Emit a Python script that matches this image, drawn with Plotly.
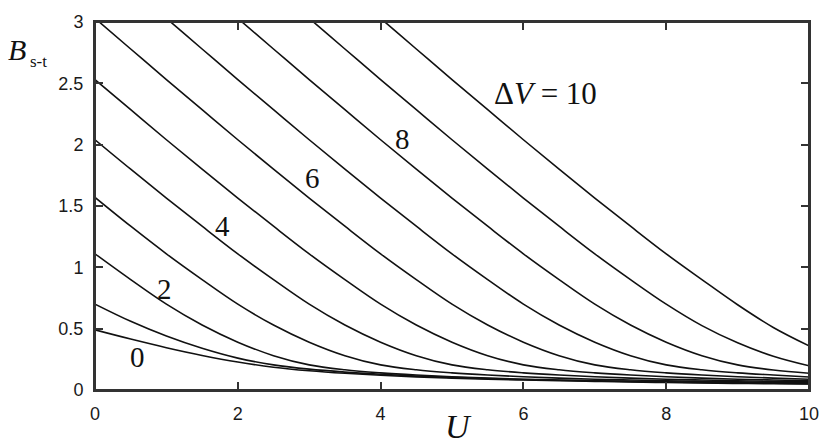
import plotly.graph_objects as go

U = [0, 0.5, 1, 1.5, 2, 2.5, 3, 3.5, 4, 4.5, 5, 5.5, 6, 6.5, 7, 7.5, 8, 8.5, 9, 9.5, 10]

dv0 = [0.49, 0.415, 0.345, 0.282, 0.228, 0.186, 0.157, 0.136, 0.120, 0.107, 0.097, 0.088, 0.081, 0.075, 0.070, 0.065, 0.061, 0.057, 0.054, 0.051, 0.049]
dv1 = [0.70, 0.56, 0.44, 0.34, 0.26, 0.205, 0.170, 0.146, 0.128, 0.114, 0.103, 0.094, 0.086, 0.080, 0.074, 0.069, 0.065, 0.061, 0.058, 0.055, 0.052]
dv2 = [1.11, 0.90, 0.70, 0.53, 0.39, 0.28, 0.205, 0.165, 0.140, 0.122, 0.108, 0.097, 0.088, 0.081, 0.075, 0.070, 0.066, 0.062, 0.059, 0.056, 0.054]
dv3 = [1.57, 1.335, 1.11, 0.90, 0.70, 0.53, 0.39, 0.28, 0.205, 0.165, 0.140, 0.122, 0.108, 0.097, 0.088, 0.081, 0.075, 0.070, 0.066, 0.062, 0.059]
dv4 = [2.04, 1.80, 1.565, 1.335, 1.11, 0.90, 0.70, 0.53, 0.39, 0.28, 0.205, 0.165, 0.140, 0.122, 0.108, 0.097, 0.088, 0.081, 0.075, 0.070, 0.066]
dv5 = [2.53, 2.285, 2.04, 1.80, 1.565, 1.335, 1.11, 0.90, 0.70, 0.53, 0.39, 0.28, 0.205, 0.165, 0.140, 0.122, 0.108, 0.097, 0.088, 0.081, 0.075]
dv6 = [3.03, 2.78, 2.53, 2.285, 2.04, 1.80, 1.565, 1.335, 1.11, 0.90, 0.70, 0.53, 0.39, 0.28, 0.205, 0.165, 0.140, 0.122, 0.108, 0.097, 0.088]
dv7 = [3.53, 3.28, 3.03, 2.78, 2.53, 2.285, 2.04, 1.80, 1.565, 1.335, 1.11, 0.90, 0.70, 0.53, 0.39, 0.28, 0.205, 0.165, 0.140, 0.122, 0.106]
dv8 = [4.03, 3.78, 3.53, 3.28, 3.03, 2.78, 2.53, 2.285, 2.04, 1.80, 1.565, 1.335, 1.11, 0.90, 0.70, 0.53, 0.39, 0.28, 0.205, 0.163, 0.137]
dv9 = [4.53, 4.28, 4.03, 3.78, 3.53, 3.28, 3.03, 2.78, 2.53, 2.285, 2.04, 1.80, 1.565, 1.335, 1.11, 0.90, 0.70, 0.525, 0.385, 0.275, 0.197]
dv10 = [5.03, 4.78, 4.53, 4.28, 4.03, 3.78, 3.53, 3.28, 3.03, 2.78, 2.53, 2.285, 2.04, 1.80, 1.565, 1.335, 1.11, 0.90, 0.695, 0.51, 0.36]

curves = [dv0, dv1, dv2, dv3, dv4, dv5, dv6, dv7, dv8, dv9, dv10]

label_text = ["0", "2", "4", "6", "8"]
label_x = [0.59, 0.98, 1.79, 3.04, 4.31]
label_y = [0.27, 0.82, 1.34, 1.73, 2.05]

x_ticks = [0, 2, 4, 6, 8, 10]
y_ticks = [0, 0.5, 1, 1.5, 2, 2.5, 3]
y_tick_text = ["0", "0.5", "1", "1.5", "2", "2.5", "3"]

fig = go.Figure()
for c in curves:
    fig.add_trace(go.Scatter(x=U, y=c, mode="lines",
                             line=dict(color="#111111", width=1.6, shape="spline", smoothing=1.0),
                             showlegend=False, hoverinfo="skip"))

serif = "Liberation Serif, Times New Roman, serif"
sans = "Liberation Sans, Arial, sans-serif"

for t, x, y in zip(label_text, label_x, label_y):
    fig.add_annotation(x=x, y=y, text=t, showarrow=False, xanchor="center", yanchor="middle",
                       font=dict(family=serif, size=29, color="#111111"))

fig.add_annotation(x=6.31, y=2.42, text="Δ<i>V</i> = 10", showarrow=False,
                   xanchor="center", yanchor="middle",
                   font=dict(family=serif, size=31, color="#111111"))

# axis titles
fig.add_annotation(xref="paper", yref="paper", x=(459 - 95) / 715, y=(390.4 - 428) / 376.4,
                   text="<i>U</i>", showarrow=False, xanchor="center", yanchor="middle",
                   font=dict(family=serif, size=34, color="#111111"))
fig.add_annotation(xref="paper", yref="paper", x=(17 - 95) / 715, y=(390.4 - 42) / 376.4,
                   text="<i>B</i>", showarrow=False, xanchor="center", yanchor="middle",
                   font=dict(family=serif, size=30, color="#111111"))
fig.add_annotation(xref="paper", yref="paper", x=(38 - 95) / 715, y=(390.4 - 54) / 376.4,
                   text="s-t", showarrow=False, xanchor="center", yanchor="middle",
                   font=dict(family=serif, size=17, color="#111111"))

axis_common = dict(showline=True, linecolor="#333333", linewidth=2, mirror="ticks",
                   ticks="inside", tickcolor="#333333", tickwidth=2, ticklen=8,
                   showgrid=False, zeroline=False,
                   tickfont=dict(family=sans, size=18, color="#1a1a1a"))

fig.update_xaxes(range=[0, 10], tickvals=x_ticks, ticklabelstandoff=6, **axis_common)
fig.update_yaxes(range=[0, 3], tickvals=y_ticks, ticktext=y_tick_text, ticklabelstandoff=6, **axis_common)

fig.add_shape(type="rect", xref="paper", yref="paper", x0=0, y0=0, x1=1, y1=1,
              line=dict(color="#333333", width=2), layer="above")

fig.update_layout(width=831, height=446, margin=dict(l=95, r=21, t=14, b=56),
                  plot_bgcolor="white", paper_bgcolor="white")

fig.write_html("out.html", config={"displayModeBar": False},
               post_script="document.body.style.margin='0';document.body.style.overflow='hidden';")
